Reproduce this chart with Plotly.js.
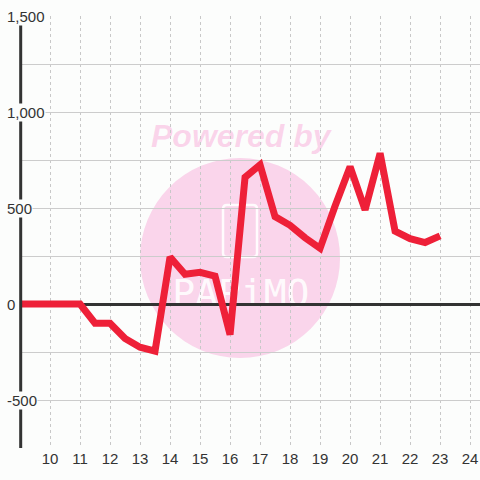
<!DOCTYPE html>
<html>
<head>
<meta charset="utf-8">
<script src="https://cdn.plot.ly/plotly-3.0.1.min.js"></script>
<style>html,body{margin:0;padding:0;background:#fcfdfc;}#chart{width:480px;height:480px;}</style>
</head>
<body>
<div id="chart"></div>
<script>
// Data (hours vs value)
const hours = [9, 9.5, 10, 10.5, 11, 11.5, 12, 12.5, 13, 13.5, 14, 14.5, 15, 15.5, 16, 16.5, 17, 17.5, 18, 18.5, 19, 19.5, 20, 20.5, 21, 21.5, 22, 22.5, 23];
const values = [0, 0, 0, 0, 0, -100, -100, -180, -225, -245, 245, 155, 165, 145, -160, 660, 725, 455, 410, 345, 290, 510, 715, 490, 785, 380, 340, 320, 355];
const xTickVals = [10, 11, 12, 13, 14, 15, 16, 17, 18, 19, 20, 21, 22, 23, 24];
const yTickVals = [1500, 1000, 500, 0, -500];
const yTickText = ['1,500', '1,000', '500', '0', '-500'];
const watermarkTop = 'Powered by';
const watermarkLogo = 'PAPiMO';

const BG = '#fcfdfc';
const FONT = 'Liberation Sans, Arial, sans-serif';

const trace = {
  x: hours, y: values, type: 'scatter', mode: 'lines',
  line: {color: '#ee2038', width: 7, shape: 'linear'},
  hoverinfo: 'skip'
};

const yLabelAnnotations = yTickVals.map((v, i) => ({
  x: -0.03, xref: 'paper', xanchor: 'left',
  y: v, yref: 'y', yanchor: 'middle',
  text: yTickText[i], showarrow: false,
  bgcolor: BG, borderpad: 0,
  font: {family: FONT, size: 15, color: '#333333'}
}));

const pink = 'rgba(245,110,190,0.28)';

const layout = {
  width: 480, height: 480,
  margin: {l: 20, r: 0, t: 16, b: 32, pad: 0},
  paper_bgcolor: BG, plot_bgcolor: BG,
  showlegend: false,
  font: {family: FONT, size: 15, color: '#333333'},
  xaxis: {
    range: [9, 24.33], tickvals: xTickVals, ticks: '',
    showline: false, zeroline: false,
    showgrid: true, gridcolor: '#c8c8c8', gridwidth: 1, griddash: '3px,3px',
    tickfont: {family: FONT, size: 15, color: '#333333'}
  },
  yaxis: {
    range: [-750, 1500], tick0: 0, dtick: 250,
    showticklabels: false, ticks: '', showline: false,
    showgrid: true, gridcolor: '#cccccc', gridwidth: 1,
    zeroline: true, zerolinecolor: '#333333', zerolinewidth: 3
  },
  shapes: [
    {type: 'circle', layer: 'below', xref: 'paper', yref: 'paper',
     xsizemode: 'pixel', ysizemode: 'pixel', xanchor: 0.4783, yanchor: 0.4398,
     x0: -100, x1: 100, y0: -100, y1: 100,
     fillcolor: pink, line: {width: 0}},
    {type: 'path', layer: 'below', xref: 'paper', yref: 'paper',
     xsizemode: 'pixel', ysizemode: 'pixel', xanchor: 0.4783, yanchor: 0.5023,
     path: 'M -13,-26 L 13,-26 Q 17,-26 17,-22 L 17,22 Q 17,26 13,26 L -13,26 Q -17,26 -17,22 L -17,-22 Q -17,-26 -13,-26 Z',
     fillcolor: 'rgba(0,0,0,0)', line: {color: 'rgba(255,255,255,0.9)', width: 2.5}},
    {type: 'rect', layer: 'below', xref: 'paper', yref: 'paper',
     x0: 0.33, x1: 0.63, y0: 0.325, y1: 0.405,
     fillcolor: 'rgba(0,0,0,0)', line: {width: 0},
     label: {text: watermarkLogo, textposition: 'middle center',
             font: {family: 'DejaVu Sans Mono, monospace', size: 38, color: 'rgba(255,255,255,0.9)'}}},
    {type: 'rect', layer: 'below', xref: 'paper', yref: 'paper',
     x0: 0.26, x1: 0.70, y0: 0.69, y1: 0.77,
     fillcolor: 'rgba(0,0,0,0)', line: {width: 0},
     label: {text: '<b><i>' + watermarkTop + '</i></b>', textposition: 'middle center',
             font: {family: FONT, size: 32, color: pink}}},
    {type: 'line', layer: 'above', xref: 'paper', yref: 'paper',
     x0: 0.0015, x1: 0.0015, y0: 0, y1: 1,
     line: {color: '#333333', width: 3}}
  ],
  annotations: yLabelAnnotations
};

Plotly.newPlot('chart', [trace], layout, {displayModeBar: false, staticPlot: true});
</script>
</body>
</html>
